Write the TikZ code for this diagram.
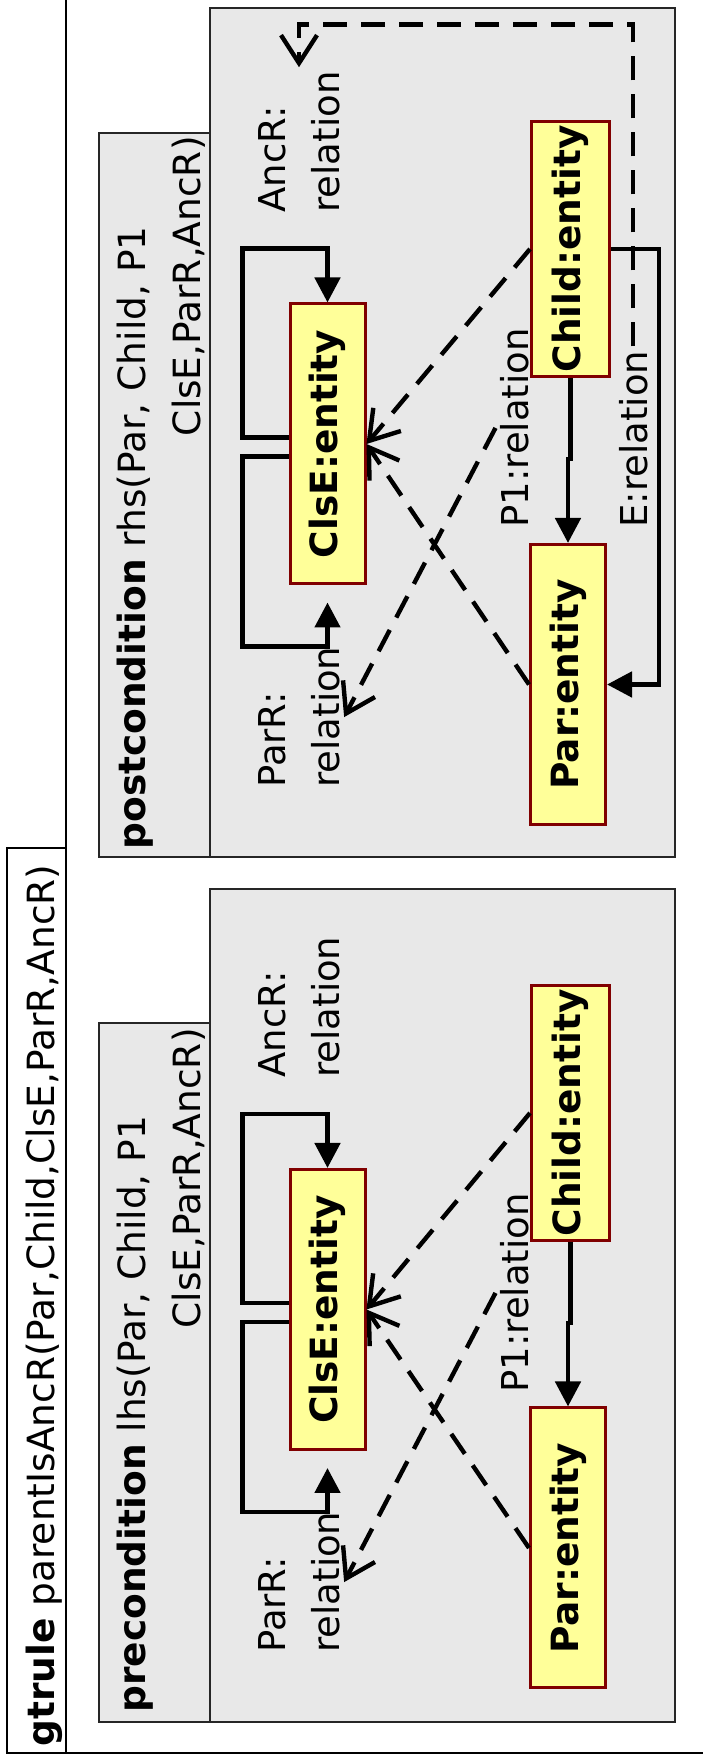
\documentclass[tikz,border=0pt]{standalone}
\usepackage{fontspec}
\setmainfont{DejaVu Sans}
\usepackage{xcolor}
\usepackage{tikz}
\usetikzlibrary{arrows.meta,calc}

\definecolor{panelgray}{HTML}{E8E8E8}
\definecolor{entityfill}{HTML}{FFFF99}
\definecolor{entityline}{HTML}{800000}

\begin{document}
\begin{tikzpicture}[
    x=0.5pt, y=-0.5pt, rotate=90, transform shape,
    outerframe/.style={draw=black, line width=1pt},
    panel/.style={draw=black!85, fill=panelgray, line width=1pt},
    headtext/.style={inner sep=0pt, font=\fontsize{18.75}{27.5}\selectfont},
    entity/.style={rectangle, draw=entityline, fill=entityfill, line width=1.5pt, minimum width=140pt, minimum height=37.5pt, inner sep=0pt, font=\fontsize{18.75}{22}\selectfont\bfseries},
    rel/.style={inner sep=2pt, align=left, font=\fontsize{18.5}{27}\selectfont},
    link/.style={line width=2.4pt, -{Triangle[length=12.5pt,width=12.5pt]}},
    ref/.style={line width=2.2pt, dash pattern=on 12pt off 7pt, -{Straight Barb[length=14pt,width=18pt]}}
]

\useasboundingbox (0,0) rectangle (1763,702);

% Rule frame and its name tab
\draw[outerframe] (1766,66.3) -- (10,66.3) -- (10,705);
\draw[outerframe] (10,6.7) rectangle (915,66.3);
\node[headtext, anchor=base west] (rulename) at (16,54) {\textbf{gtrule} parentIsAncR(Par,Child,ClsE,ParR,AncR)};

% Precondition panel
\draw[panel] (41,210.4) rectangle (874,674.7);
\draw[panel] (41,99.4) rectangle (740,210.4);
\node[headtext, anchor=base west] (preHead) at (50,145) {\textbf{precondition} lhs(Par, Child, P1};
\node[headtext, anchor=base east] (preHeadArgs) at (735,200) {ClsE,ParR,AncR)};

\node[entity] (preClsE) at (453.5,327.5) {ClsE:entity};
\node[entity, minimum width=127.5pt, minimum height=39pt] (preChild) at (650,570.5) {Child:entity};
\node[entity] (prePar) at (215,568) {Par:entity};

\node[rel, anchor=west] (preAncR) at (681,299) {AncR:\\relation};
\node[rel, anchor=west] (preParR) at (106,299) {ParR:\\relation};
\node[rel, anchor=base west] (preP1) at (366,528) {P1:relation};

\draw[link] ($(preClsE.north)+(6.5,0)$) -- ++(0,-46) -| ($(preClsE.east)+(54,0)$) -- (preClsE.east);
\draw[link] ($(preClsE.north)+(-12.5,0)$) -- ++(0,-46) -| ($(preClsE.west)+(-61,0)$) -- ($(preClsE.west)+(-17,0)$);
\draw[link] (preChild.west) -- ++(-81,0) |- (prePar.east);

\draw[ref] (preChild.north) -- (preClsE.south);
\draw[ref] (prePar.north) -- (preClsE.south);
\draw[ref] (preP1.north) -- (preParR.south);

% Postcondition panel
\draw[panel] (906,210.4) rectangle (1755,674.7);
\draw[panel] (906,99.4) rectangle (1630,210.4);
\node[headtext, anchor=base west] (postHead) at (913,145) {\textbf{postcondition} rhs(Par, Child, P1};
\node[headtext, anchor=base east] (postHeadArgs) at (1627,200) {ClsE,ParR,AncR)};

\node[entity] (postClsE) at (1319,327.5) {ClsE:entity};
\node[entity, minimum width=127.5pt, minimum height=39pt] (postChild) at (1514,570.5) {Child:entity};
\node[entity] (postPar) at (1078.5,568) {Par:entity};

\node[rel, anchor=west] (postAncR) at (1546,299) {AncR:\\relation};
\node[rel, anchor=west] (postParR) at (971,299) {ParR:\\relation};
\node[rel, anchor=base west] (postP1) at (1231,528) {P1:relation};
\node[rel, anchor=base west] (postE) at (1231,647) {E:relation};

\draw[link] ($(postClsE.north)+(6.5,0)$) -- ++(0,-46) -| ($(postClsE.east)+(54,0)$) -- (postClsE.east);
\draw[link] ($(postClsE.north)+(-12.5,0)$) -- ++(0,-46) -| ($(postClsE.west)+(-61,0)$) -- ($(postClsE.west)+(-17,0)$);
\draw[link] (postChild.west) -- ++(-81,0) |- (postPar.east);
\draw[link] (postChild.south) -- ++(0,48) -| (postPar.south);

\draw[ref] (postChild.north) -- (postClsE.south);
\draw[ref] (postPar.north) -- (postClsE.south);
\draw[ref] (postP1.north) -- (postParR.south);
\draw[ref] (postE.east) -- ++(322,0) |- (postAncR.east);

\end{tikzpicture}
\end{document}
